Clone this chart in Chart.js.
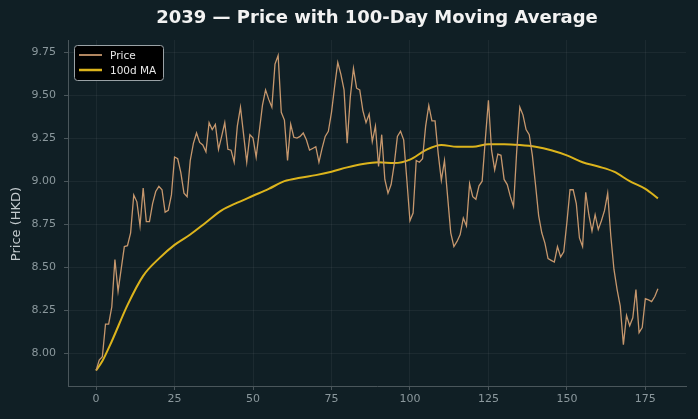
<!DOCTYPE html>
<html>
<head>
<meta charset="utf-8">
<title>2039 price chart</title>
<script src="https://cdn.jsdelivr.net/npm/chart.js@4.4.1/dist/chart.umd.min.js"></script>
<style>
    html, body { margin: 0; padding: 0; background: #101f25; }
    canvas { display: block; }
</style>
</head>
<body>
<canvas id="priceChart" width="698" height="419"></canvas>
<script>
// Daily closing price, day 0 .. 179
const prices = [
    7.90, 7.96, 7.98, 8.17, 8.17, 8.27, 8.545, 8.36, 8.49, 8.62,
    8.625, 8.70, 8.92, 8.88, 8.74, 8.96, 8.765, 8.765, 8.87, 8.94,
    8.97, 8.95, 8.82, 8.83, 8.92, 9.14, 9.13, 9.05, 8.93, 8.91,
    9.12, 9.22, 9.28, 9.225, 9.21, 9.17, 9.34, 9.30, 9.33, 9.185,
    9.26, 9.34, 9.185, 9.18, 9.11, 9.32, 9.43, 9.27, 9.11, 9.27,
    9.25, 9.14, 9.29, 9.44, 9.53, 9.475, 9.43, 9.68, 9.73, 9.40,
    9.355, 9.12, 9.33, 9.255, 9.25, 9.26, 9.28, 9.24, 9.18, 9.19,
    9.20, 9.11, 9.19, 9.26, 9.29, 9.40, 9.55, 9.69, 9.62, 9.53,
    9.22, 9.49, 9.655, 9.54, 9.53, 9.41, 9.34, 9.39, 9.23, 9.32,
    9.085, 9.27, 9.01, 8.93, 8.98, 9.10, 9.26, 9.29, 9.24, 9.01,
    8.77, 8.815, 9.12, 9.11, 9.13, 9.32, 9.44, 9.35, 9.35, 9.16,
    9.005, 9.12, 8.91, 8.70, 8.62, 8.65, 8.69, 8.786, 8.74, 8.985,
    8.91, 8.895, 8.973, 9.00, 9.24, 9.47, 9.18, 9.066, 9.157, 9.15,
    9.01, 8.98, 8.91, 8.853, 9.17, 9.43, 9.385, 9.30, 9.27, 9.15,
    8.98, 8.80, 8.70, 8.64, 8.55, 8.54, 8.53, 8.62, 8.56, 8.59,
    8.76, 8.95, 8.95, 8.87, 8.67, 8.62, 8.935, 8.805, 8.71, 8.805,
    8.72, 8.77, 8.83, 8.93, 8.68, 8.487, 8.37, 8.274, 8.05, 8.22,
    8.16, 8.206, 8.37, 8.12, 8.15, 8.317, 8.31, 8.30, 8.33, 8.375
];

// 100-day moving average, read at these days
const maDays = [0, 2, 5, 10, 15, 20, 25, 30, 35, 40, 45, 50, 55, 60, 65, 70, 75, 80, 85, 90,
    95, 100, 105, 110, 115, 120, 125, 130, 135, 140, 145, 150, 155, 160, 165, 170, 175, 179];
const maValues = [7.90, 7.955, 8.07, 8.28, 8.45, 8.55, 8.63, 8.69, 8.76, 8.83, 8.875, 8.915, 8.955, 9.00,
    9.02, 9.035, 9.055, 9.08, 9.10, 9.11, 9.105, 9.125, 9.18, 9.21, 9.20, 9.20, 9.215, 9.215,
    9.21, 9.20, 9.18, 9.15, 9.11, 9.085, 9.055, 9.00, 8.955, 8.90];

const xTicks = [0, 25, 50, 75, 100, 125, 150, 175];
const yTicks = [8.00, 8.25, 8.50, 8.75, 9.00, 9.25, 9.50, 9.75];

const chartTitle = '2039 — Price with 100-Day Moving Average';
const yLabel = 'Price (HKD)';

const days = prices.map((p, i) => i);

const gridColor = 'rgba(255, 255, 255, 0.05)';
const axisColor = '#4a565b';
const tickText = '#8b989d';

// Title centred over the plot, y label, and legend box in the upper left
const decorations = {
    id: 'decorations',
    afterDraw(chart) {
        const ctx = chart.ctx;
        const area = chart.chartArea;
        ctx.save();

        ctx.fillStyle = '#f2f2f2';
        ctx.font = 'bold 18px "DejaVu Sans", sans-serif';
        ctx.textAlign = 'center';
        ctx.textBaseline = 'middle';
        ctx.fillText(chartTitle, (area.left + area.right) / 2, 18);

        ctx.save();
        ctx.translate(17, 224);
        ctx.rotate(-Math.PI / 2);
        ctx.fillStyle = '#c3cacd';
        ctx.font = '13px "DejaVu Sans", sans-serif';
        ctx.fillText(yLabel, 0, 0);
        ctx.restore();

        const x = area.left + 6;
        const y = area.top + 5;
        const w = 89, h = 35;
        ctx.beginPath();
        ctx.roundRect(x + 0.5, y + 0.5, w, h, 3);
        ctx.fillStyle = '#000000';
        ctx.fill();
        ctx.strokeStyle = '#9aa2a6';
        ctx.lineWidth = 1;
        ctx.stroke();
        ctx.font = '10.5px "DejaVu Sans", sans-serif';
        ctx.textAlign = 'left';
        chart.data.datasets.forEach((ds, i) => {
            const ly = y + 10 + i * 15;
            ctx.beginPath();
            ctx.moveTo(x + 5, ly);
            ctx.lineTo(x + 28, ly);
            ctx.strokeStyle = ds.borderColor;
            ctx.lineWidth = ds.borderWidth + 0.5;
            ctx.stroke();
            ctx.fillStyle = '#e8e8e8';
            ctx.fillText(ds.label, x + 36, ly + 1);
        });
        ctx.restore();
    }
};

new Chart(document.getElementById('priceChart'), {
    type: 'line',
    data: {
        datasets: [{
            label: 'Price',
            data: days.map(d => ({ x: d, y: prices[d] })),
            borderColor: '#c6976d',
            borderWidth: 1.3,
            pointRadius: 0,
            tension: 0
        }, {
            label: '100d MA',
            data: maDays.map((d, i) => ({ x: d, y: maValues[i] })),
            borderColor: '#dcb41c',
            borderWidth: 2,
            pointRadius: 0,
            cubicInterpolationMode: 'monotone'
        }]
    },
    options: {
        responsive: false,
        animation: false,
        layout: { padding: { left: 0, right: 12, top: 40, bottom: 0 } },
        scales: {
            x: {
                type: 'linear',
                min: -8.95,
                max: 187.95,
                afterBuildTicks: scale => { scale.ticks = xTicks.map(v => ({ value: v })); },
                afterFit: scale => { scale.height = 33; },
                grid: { color: gridColor, tickColor: axisColor, tickLength: 4 },
                border: { color: axisColor, width: 1 },
                ticks: {
                    color: tickText,
                    padding: 3,
                    maxRotation: 0,
                    font: { family: 'DejaVu Sans', size: 11 }
                }
            },
            y: {
                min: 7.81,
                max: 9.82,
                afterBuildTicks: scale => { scale.ticks = yTicks.map(v => ({ value: v })); },
                afterFit: scale => { scale.width = 68; },
                grid: { color: gridColor, tickColor: axisColor, tickLength: 4 },
                border: { color: axisColor, width: 1 },
                ticks: {
                    color: tickText,
                    padding: 8,
                    font: { family: 'DejaVu Sans', size: 11 },
                    callback: v => v.toFixed(2)
                }
            }
        },
        plugins: {
            legend: { display: false },
            tooltip: { enabled: false },
            title: { display: false }
        }
    },
    plugins: [decorations]
});
</script>
</body>
</html>
